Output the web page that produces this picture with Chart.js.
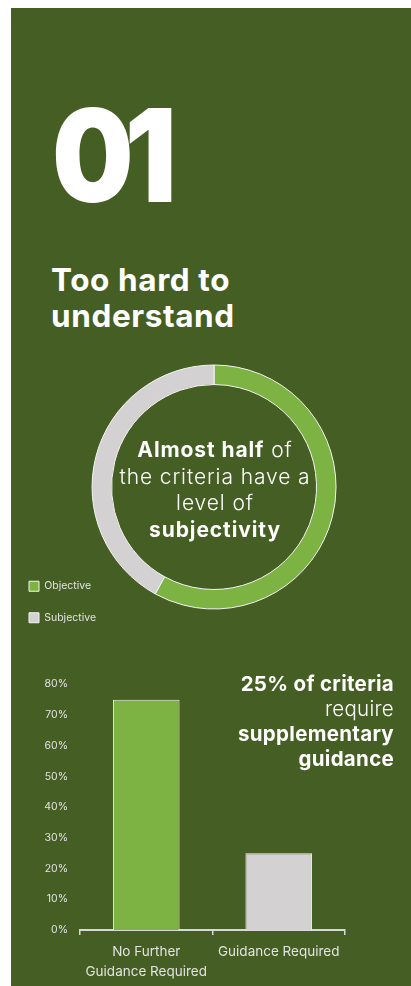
<!DOCTYPE html>
<html>
<head>
<meta charset="utf-8">
<script src="https://cdn.jsdelivr.net/npm/chart.js@4"></script>
<style>
  html, body { margin: 0; padding: 0; background: #fff; overflow: hidden; }
  body { width: 411px; height: 986px; position: relative; font-family: Inter, "Noto Sans", sans-serif; }
  .panel { position: absolute; left: 11px; top: 8px; width: 400px; height: 978px; background: #455E23; }
  .abs { position: absolute; color: #fff; white-space: nowrap; }
  #num { left: 52px; top: 91px; font-size: 129px; line-height: 129px; font-weight: 900; letter-spacing: -10px; transform: scaleX(0.89); transform-origin: left top; }
  #title { left: 51px; top: 262px; font-size: 31.5px; line-height: 36px; font-weight: 700; letter-spacing: 0.6px; }
  #donutText { left: 75px; width: 280px; top: 437px; font-size: 21px; line-height: 26.5px; text-align: center; font-weight: 300; letter-spacing: 0.9px; }
  #barText { right: 17px; top: 671px; font-size: 20.5px; line-height: 25px; text-align: right; font-weight: 300; letter-spacing: 0.3px; }
  b { font-weight: 700; }
  #donutWrap { position: absolute; left: 8px; top: 330px; width: 403px; height: 314px; }
  #barWrap { position: absolute; left: 11px; top: 666px; width: 400px; height: 320px; }
</style>
</head>
<body>
<div class="panel"></div>
<div class="abs" id="num">01</div>
<div class="abs" id="title">Too hard to<br>understand</div>
<div id="donutWrap"><canvas id="donutChart"></canvas></div>
<div class="abs" id="donutText"><b>Almost half</b> of<br>the criteria have a<br>level of<br><b>subjectivity</b></div>
<div id="barWrap"><canvas id="barChart"></canvas></div>
<div class="abs" id="barText"><b>25% of criteria</b><br>require<br><b>supplementary<br>guidance</b></div>

<script>
// data
const donutLabels = ['Objective', 'Subjective'];
const donutValues = [58, 42];
const barLabels = [['No Further', 'Guidance Required'], 'Guidance Required'];
const barValues = [75, 25];

const GREEN = '#7CB342';
const GREY = '#D3D1D2';
const LIGHT = '#E2E2E2';

Chart.defaults.font.family = 'Inter, "Noto Sans", sans-serif';
Chart.defaults.animation = false;

// donut, legend sits bottom-left; ring size fixed so the legend doesn't shrink it
new Chart(document.getElementById('donutChart'), {
    type: 'doughnut',
    data: {
        labels: donutLabels,
        datasets: [{
            data: donutValues,
            backgroundColor: [GREEN, GREY],
            borderColor: '#F4F4F4',
            borderWidth: 1
        }]
    },
    options: {
        responsive: true,
        maintainAspectRatio: false,
        cutout: '84%',
        radius: 122,
        layout: { padding: { left: 0, right: 89, top: 0, bottom: 0 } },
        plugins: {
            tooltip: { enabled: false },
            legend: {
                position: 'left',
                align: 'end',
                labels: {
                    color: LIGHT,
                    boxWidth: 10,
                    boxHeight: 10,
                    padding: 21,
                    font: { size: 10.5 }
                }
            }
        }
    }
});

// bar chart
new Chart(document.getElementById('barChart'), {
    type: 'bar',
    data: {
        labels: barLabels,
        datasets: [{
            data: barValues,
            backgroundColor: [GREEN, GREY],
            borderColor: '#F2F2F2',
            borderWidth: 1,
            categoryPercentage: 1,
            barPercentage: 0.503
        }]
    },
    options: {
        responsive: true,
        maintainAspectRatio: false,
        layout: { padding: { left: 0, right: 66, top: 9, bottom: 0 } },
        plugins: { legend: { display: false }, tooltip: { enabled: false } },
        scales: {
            y: {
                min: 0,
                max: 80,
                afterFit: (scale) => { scale.width = 69; },
                grid: { display: false, drawTicks: false },
                border: { display: false },
                ticks: {
                    stepSize: 10,
                    padding: 12,
                    color: LIGHT,
                    font: { size: 10.5 },
                    callback: (v) => v + '%'
                }
            },
            x: {
                afterFit: (scale) => { scale.height = 56; },
                grid: {
                    display: true,
                    drawOnChartArea: false,
                    drawTicks: true,
                    tickLength: 5,
                    color: '#D8D8D8',
                    lineWidth: 1.5
                },
                border: { display: true, color: '#D8D8D8', width: 2 },
                ticks: {
                    color: LIGHT,
                    padding: 7,
                    font: { size: 13.5, lineHeight: 1.5 },
                    maxRotation: 0
                }
            }
        }
    }
});
</script>
</body>
</html>
